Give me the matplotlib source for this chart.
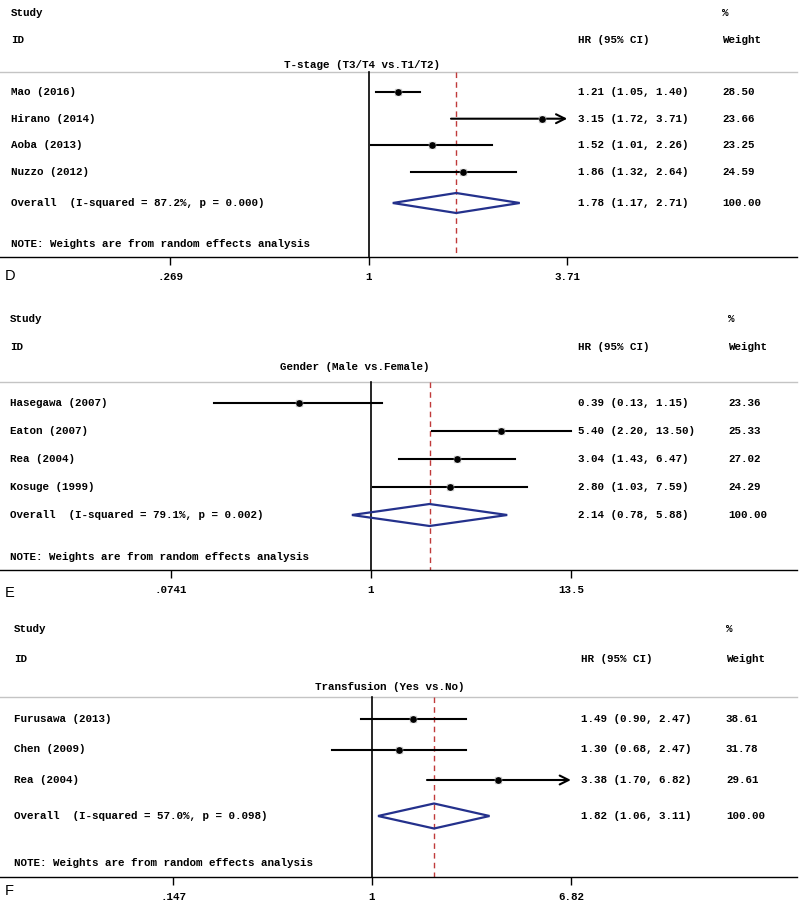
import numpy as np
import matplotlib
matplotlib.use('Agg')
import matplotlib.pyplot as plt
from matplotlib.patches import Polygon
from matplotlib.ticker import NullLocator

MONO = 'Liberation Mono'
FS = 7.8

# ---- panel D: T-stage
d_title = 'T-stage (T3/T4 vs.T1/T2)'
d_study = ['Mao (2016)', 'Hirano (2014)', 'Aoba (2013)', 'Nuzzo (2012)']
d_hr = [1.21, 3.15, 1.52, 1.86]
d_lo = [1.05, 1.72, 1.01, 1.32]
d_hi = [1.40, 3.71, 2.26, 2.64]
d_arrow = [False, True, False, False]
d_weight = [28.50, 23.66, 23.25, 24.59]
d_overall = (1.78, 1.17, 2.71)
d_isq, d_p = '87.2%', '0.000'
d_ticks = [0.269, 1, 3.71]
d_ticklabels = ['.269', '1', '3.71']

# ---- panel E: Gender
e_title = 'Gender (Male vs.Female)'
e_study = ['Hasegawa (2007)', 'Eaton (2007)', 'Rea (2004)', 'Kosuge (1999)']
e_hr = [0.39, 5.40, 3.04, 2.80]
e_lo = [0.13, 2.20, 1.43, 1.03]
e_hi = [1.15, 13.50, 6.47, 7.59]
e_arrow = [False, False, False, False]
e_weight = [23.36, 25.33, 27.02, 24.29]
e_overall = (2.14, 0.78, 5.88)
e_isq, e_p = '79.1%', '0.002'
e_ticks = [0.0741, 1, 13.5]
e_ticklabels = ['.0741', '1', '13.5']

# ---- panel F: Transfusion
f_title = 'Transfusion (Yes vs.No)'
f_study = ['Furusawa (2013)', 'Chen (2009)', 'Rea (2004)']
f_hr = [1.49, 1.30, 3.38]
f_lo = [0.90, 0.68, 1.70]
f_hi = [2.47, 2.47, 6.82]
f_arrow = [False, False, True]
f_weight = [38.61, 31.78, 29.61]
f_overall = (1.82, 1.06, 3.11)
f_isq, f_p = '57.0%', '0.098'
f_ticks = [0.147, 1, 6.82]
f_ticklabels = ['.147', '1', '6.82']

W, H = 800, 901
AX_W = 797  # axis line spans nearly full width (px)

fig = plt.figure(figsize=(W / 100, H / 100), dpi=100)


def panel(letter, title, study, hr, lo, hi, arrow, weight, overall, isq, p,
          ticks, ticklabels, lay):
    top, axis_y = lay['top'], lay['axis_y']
    ax = fig.add_axes([0, (H - axis_y) / H, AX_W / W, (axis_y - top) / H])
    one, k = lay['one_px'], lay['px_ln']
    ax.set_xscale('log')
    ax.set_xlim(np.exp(-one / k), np.exp((AX_W - one) / k))
    ax.set_ylim(axis_y, top)
    for s in ['top', 'left', 'right']:
        ax.spines[s].set_visible(False)
    ax.spines['bottom'].set_linewidth(1.0)
    ax.set_yticks([])
    ax.set_xticks(ticks)
    ax.set_xticklabels(ticklabels, fontfamily=MONO, fontsize=FS, fontweight='bold')
    ax.xaxis.set_minor_locator(NullLocator())
    ax.tick_params(axis='x', direction='out', length=6, width=1, pad=5)
    tr = ax.get_yaxis_transform()

    def txt(xpx, y, s, **kw):
        ax.text(xpx / AX_W, y, s, transform=tr, fontfamily=MONO, fontsize=FS,
                fontweight='bold', va='center', clip_on=False, **kw)

    # header
    txt(lay['lx'], lay['study_y'], 'Study')
    txt(lay['lx'], lay['id_y'], 'ID')
    txt(lay['wx'], lay['study_y'], '%')
    txt(lay['hrx'], lay['id_y'], 'HR (95% CI)')
    txt(lay['wx'], lay['id_y'], 'Weight')
    txt(lay['title_x'], lay['title_y'], title, ha='center')
    ax.plot([0, 1], [lay['hline_y']] * 2, transform=tr, color='#c4c4c4',
            lw=1.0, clip_on=False)

    # reference lines
    ax.plot([1, 1], [lay['hline_y'], axis_y], color='black', lw=1.2)
    ax.plot([overall[0]] * 2, [lay['hline_y'], axis_y], color='#c03a3a',
            lw=1.0, ls=(0, (4, 3)))

    rows = [lay['row0'] + i * lay['step'] for i in range(len(study))]
    for y, name, e, l, h, a, w in zip(rows, study, hr, lo, hi, arrow, weight):
        if a:
            ax.annotate('', xy=(h, y), xytext=(l, y),
                        arrowprops=dict(arrowstyle='->', lw=1.5, color='black',
                                        mutation_scale=16, shrinkA=0, shrinkB=0))
        else:
            ax.plot([l, h], [y, y], color='black', lw=1.5)
        ax.plot(e, y, marker='s', ms=5, color='#cfcfcf', zorder=3)
        ax.plot(e, y, marker='o', ms=3.8, color='black', zorder=4)
        txt(lay['lx'], y, name)
        txt(lay['hrx'], y, f'{e:.2f} ({l:.2f}, {h:.2f})')
        txt(lay['wx'], y, f'{w:.2f}')

    oy, dh = lay['overall_y'], lay['dh']
    est, olo, ohi = overall
    ax.add_patch(Polygon([(olo, oy), (est, oy - dh), (ohi, oy), (est, oy + dh)],
                         closed=True, fill=False, edgecolor='#24318c', lw=1.6,
                         zorder=3))
    txt(lay['lx'], oy, f'Overall  (I-squared = {isq}, p = {p})')
    txt(lay['hrx'], oy, f'{est:.2f} ({olo:.2f}, {ohi:.2f})')
    txt(lay['wx'], oy, '100.00')
    txt(lay['lx'], lay['note_y'], 'NOTE: Weights are from random effects analysis')

    fig.text(5 / W, 1 - lay['letter_y'] / H, letter, fontfamily='Liberation Sans',
             fontsize=10.5, va='center', ha='left')
    return ax


panel('D', d_title, d_study, d_hr, d_lo, d_hi, d_arrow, d_weight, d_overall,
      d_isq, d_p, d_ticks, d_ticklabels,
      dict(top=0, axis_y=257, one_px=369, px_ln=151.2, lx=11, hrx=578, wx=722,
           study_y=13, id_y=40, title_y=65, title_x=362, hline_y=72,
           row0=92, step=26.7, overall_y=203, dh=10, note_y=244, letter_y=276))

panel('E', e_title, e_study, e_hr, e_lo, e_hi, e_arrow, e_weight, e_overall,
      e_isq, e_p, e_ticks, e_ticklabels,
      dict(top=300, axis_y=570, one_px=371, px_ln=76.9, lx=10, hrx=578, wx=728,
           study_y=319, id_y=347, title_y=367, title_x=355, hline_y=382,
           row0=403, step=28, overall_y=515, dh=11, note_y=557, letter_y=593))

panel('F', f_title, f_study, f_hr, f_lo, f_hi, f_arrow, f_weight, f_overall,
      f_isq, f_p, f_ticks, f_ticklabels,
      dict(top=610, axis_y=877, one_px=372, px_ln=103.6, lx=14, hrx=581, wx=726,
           study_y=629, id_y=659, title_y=687, title_x=390, hline_y=697,
           row0=719, step=30.5, overall_y=816, dh=12.5, note_y=863, letter_y=891))

fig.savefig('out.png', dpi=100)
